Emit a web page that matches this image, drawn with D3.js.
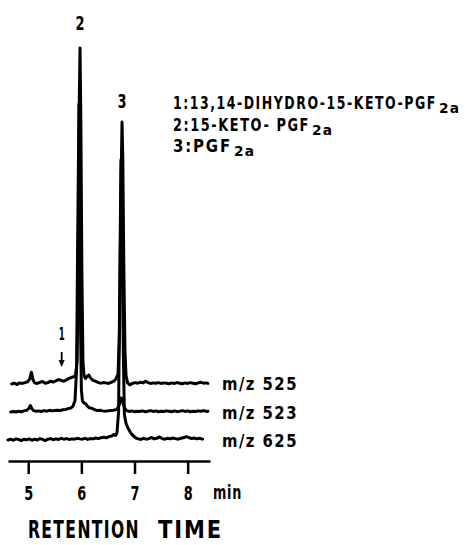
<!DOCTYPE html>
<html>
<head>
<meta charset="utf-8">
<script src="https://cdn.jsdelivr.net/npm/d3@7"></script>
<style>
  html, body { margin: 0; padding: 0; background: #fff; }
  svg { display: block; }
  .lbl { font-family: "DejaVu Sans", "Liberation Sans", sans-serif; font-stretch: condensed; font-weight: bold; fill: #000; }
</style>
</head>
<body>
<svg id="chart" width="468" height="545"></svg>
<script>
// ---------- DATA (time in min, relative intensity above each trace's own baseline) ----------
const ticks = [5, 6, 7, 8];
const axisUnit = "min";
const axisTitle = ["RETENTION", "TIME"];

const seriesNames = ["m/z 525", "m/z 523", "m/z 625"];
const seriesOffsets = [20, 10, 0];

const trace525 = [
  [4.69,0],[4.74,0.3],[4.79,-0.2],[4.84,0.4],[4.89,0.2],[4.94,0.5],[4.99,0.8],[5.03,1.8],[5.06,4.2],[5.09,1.5],
  [5.12,0.4],[5.17,0.2],[5.22,0.6],[5.27,0.9],[5.32,0.3],[5.37,0.5],[5.42,1.0],[5.47,0.7],[5.52,1.1],[5.57,1.6],
  [5.62,1.3],[5.67,1.0],[5.72,1.5],[5.77,2.0],[5.82,2.4],[5.86,2.6],[5.89,3.2],[5.92,8],[5.94,40],[5.96,100],
  [5.975,120],[5.99,95],[6.01,40],[6.03,8],[6.05,3.0],[6.08,2.0],[6.11,2.8],[6.14,3.2],[6.17,2.2],[6.21,1.4],
  [6.26,1.0],[6.31,0.6],[6.36,0.3],[6.41,0.5],[6.46,0.4],[6.51,0.2],[6.56,0.6],[6.61,1.0],[6.65,1.8],[6.69,3.5],
  [6.72,20],[6.745,70],[6.765,93.6],[6.78,80],[6.80,40],[6.82,12],[6.84,3],[6.87,0.4],[6.91,-0.3],[6.96,0.2],
  [7.01,0.5],[7.06,0.3],[7.11,0.6],[7.16,0.4],[7.21,1.0],[7.25,0.5],[7.30,0.2],[7.35,0.4],[7.40,0.3],[7.45,0.5],
  [7.50,0.2],[7.55,0.4],[7.60,0.3],[7.65,0.1],[7.70,0.4],[7.75,0.2],[7.80,0.5],[7.85,0.3],[7.90,0.1],[7.95,0.4],
  [8.00,0.2],[8.05,0.5],[8.10,0.3],[8.15,0.1],[8.20,0.4],[8.25,0.6],[8.30,0.3],[8.35,0.4],[8.38,0.2]
];

const trace523 = [
  [4.67,0],[4.72,0.2],[4.77,0],[4.82,0.3],[4.87,0.1],[4.92,0.4],[4.97,0.6],[5.01,1.2],[5.04,2.3],[5.07,1.2],
  [5.10,0.5],[5.15,0.3],[5.20,0.4],[5.25,0.2],[5.30,0.5],[5.35,0.3],[5.40,0.6],[5.45,0.4],[5.50,0.5],[5.55,0.6],
  [5.60,0.5],[5.65,0.8],[5.70,0.9],[5.75,1.2],[5.80,1.4],[5.84,2.0],[5.88,4],[5.91,15],[5.93,60],[5.955,110],
  [5.97,80],[5.985,30],[6.00,8],[6.02,4],[6.05,3.2],[6.08,3.0],[6.11,2.2],[6.15,1.5],[6.20,1.3],[6.25,0.8],
  [6.30,0.5],[6.35,0.6],[6.40,0.4],[6.45,0.3],[6.50,0.4],[6.55,0.5],[6.60,0.6],[6.65,0.8],[6.69,1.5],[6.72,3.0],
  [6.75,5.0],[6.78,3.5],[6.81,1.5],[6.85,0.5],[6.90,0.2],[6.95,0.4],[7.00,0.1],[7.05,0.3],[7.10,0.2],[7.15,0.4],
  [7.20,0.1],[7.25,0.3],[7.30,0.5],[7.35,0.2],[7.40,0.4],[7.45,0.1],[7.50,0.3],[7.55,0.2],[7.60,0.4],[7.65,0.3],
  [7.70,0.1],[7.75,0.4],[7.80,0.2],[7.85,0.3],[7.90,0.5],[7.95,0.2],[8.00,0.4],[8.05,0.1],[8.10,0.3],[8.15,0.2],
  [8.20,0.4],[8.25,0.3],[8.30,0.5],[8.35,0.2],[8.38,0.3]
];

const trace625 = [
  [4.62,0],[4.67,0.3],[4.72,-0.1],[4.77,0.4],[4.82,0.2],[4.87,-0.2],[4.92,0.3],[4.97,0.1],[5.02,0.4],[5.07,-0.1],
  [5.12,0.3],[5.17,0.0],[5.22,0.5],[5.27,0.2],[5.32,-0.2],[5.37,0.3],[5.42,0.5],[5.47,0.1],[5.52,0.4],[5.57,0.2],
  [5.62,0.6],[5.67,0.3],[5.72,0.5],[5.77,0.2],[5.82,0.4],[5.87,0.3],[5.92,0.6],[5.97,0.4],[6.02,0.3],[6.07,0.6],
  [6.12,0.2],[6.17,0.5],[6.22,0.4],[6.27,0.7],[6.32,0.5],[6.37,0.8],[6.42,1.0],[6.47,0.8],[6.52,1.2],[6.57,1.4],
  [6.61,2.0],[6.64,1.6],[6.67,2.5],[6.70,10],[6.72,50],[6.745,100],[6.77,75],[6.79,30],[6.81,9],[6.84,6],
  [6.87,4.5],[6.90,3.5],[6.93,2.5],[6.97,1.6],[7.02,0.8],[7.07,0.4],[7.12,0.2],[7.17,0.6],[7.22,0.3],[7.27,0.5],
  [7.32,0.9],[7.37,0.4],[7.42,0.6],[7.47,1.1],[7.52,0.5],[7.57,0.3],[7.62,0.6],[7.67,0.4],[7.72,0.7],[7.77,0.5],
  [7.82,0.3],[7.87,0.6],[7.92,0.8],[7.97,1.2],[8.02,0.9],[8.07,0.5],[8.12,0.7],[8.17,0.4],[8.22,0.6],[8.28,0.3]
];

const peakLabels = [
  { label: "1", t: 5.63 },
  { label: "2", t: 5.975 },
  { label: "3", t: 6.765 }
];

const legendMain = ["1:13,14-DIHYDRO-15-KETO-PGF", "2:15-KETO- PGF", "3:PGF"];
const legendSub = ["2a", "2a", "2a"];

// ---------- CHART ----------
const svg = d3.select("#chart");
const x = d3.scaleLinear().domain([4.62, 8.42]).range([8, 210]);
const y = d3.scaleLinear().domain([0, 140]).range([440, 48]);

// place a text and squeeze/stretch it horizontally to a target width
function fitText(str, px, py, size, width, anchor, spacing) {
  const t = svg.append("text").attr("class", "lbl")
    .attr("font-size", size)
    .attr("text-anchor", anchor || "start")
    .attr("letter-spacing", spacing || 0)
    .text(str);
  const len = t.node().getComputedTextLength();
  const sx = width / len;
  t.attr("transform", `translate(${px},${py}) scale(${sx},1)`);
  return t;
}

const traces = [trace525, trace523, trace625];
const line = d3.line().x(d => x(d[0])).y(d => y(d[1]));

traces.forEach((tr, i) => {
  const off = seriesOffsets[i];
  svg.append("path")
    .datum(tr.map(d => [d[0], d[1] + off]))
    .attr("d", line)
    .attr("fill", "none")
    .attr("stroke", "#000")
    .attr("stroke-width", 3)
    .attr("stroke-linejoin", "round")
    .attr("stroke-linecap", "round");
});

// series labels at right end
const labelBaselines = [390, 419, 447];
seriesNames.forEach((name, i) => {
  fitText(name, 222, labelBaselines[i], 17, 76, "start", 1.5);
});

// axis
const axis = d3.axisBottom(x).tickValues(ticks).tickSize(13).tickSizeOuter(0).tickPadding(12).tickFormat(d3.format("d"));
const gAxis = svg.append("g").attr("transform", "translate(0,461)").call(axis);
gAxis.select(".domain").attr("stroke", "#000").attr("stroke-width", 2.5);
gAxis.selectAll(".tick line").attr("stroke", "#000").attr("stroke-width", 2.5);
gAxis.selectAll(".tick text")
  .attr("class", "lbl")
  .attr("font-family", null)
  .attr("font-size", 20)
  .attr("fill", "#000")
  .each(function () {
    const len = this.getComputedTextLength();
    d3.select(this).attr("transform", `scale(${9 / len},1)`);
  });

fitText(axisUnit, 213, 499, 20, 29, "start", 1);

fitText(axisTitle[0], 28, 538, 25, 112, "start", 2);
fitText(axisTitle[1], 158, 538, 25, 65, "start", 2);

// peak labels
const peakLabelY = [340, 30, 108];
const peakLabelSize = [17, 20, 20];
const peakLabelW = [6, 9, 9];
peakLabels.forEach((p, i) => {
  fitText(p.label, x(p.t), peakLabelY[i], peakLabelSize[i], peakLabelW[i], "middle", 0);
});
// arrow for peak 1
const ax = x(peakLabels[0].t);
svg.append("line").attr("x1", ax).attr("x2", ax).attr("y1", 352).attr("y2", 362)
  .attr("stroke", "#000").attr("stroke-width", 1.8);
svg.append("path").attr("d", `M${ax-3},${360} L${ax+3},${360} L${ax},${367} Z`).attr("fill", "#000");

// legend
const legendBase = [109, 131, 152];
const legendWidths = [264, 137, 59];
legendMain.forEach((m, i) => {
  fitText(m, 173, legendBase[i], 18, legendWidths[i], "start", 2);
  fitText(legendSub[i], 173 + legendWidths[i] + 2, legendBase[i] + 4, 14, 21, "start", 1);
});
</script>
</body>
</html>
